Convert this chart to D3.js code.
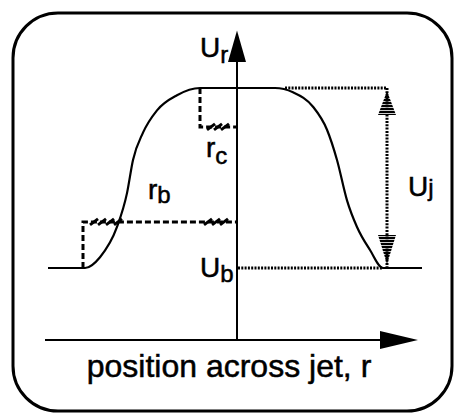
<!DOCTYPE html>
<html>
<head>
<meta charset="utf-8">
<script src="https://cdn.jsdelivr.net/npm/d3@7"></script>
<style>
  body { margin: 0; background: #fff; }
  text { font-family: "Liberation Sans", Arial, sans-serif; fill: #000; stroke: #000; stroke-width: 0.5px; }
</style>
</head>
<body>
<svg id="chart"></svg>
<script>
// jet velocity profile (r in arbitrary units, U in arbitrary units)
const profileR = [-9.45, -7.6, -6.85, -6.0, -5.5, -5.2, -4.7, -4.0, -3.0, -1.85,
                  1.9, 2.8, 3.8, 4.5, 5.0, 5.5, 6.0, 6.65, 7.3, 9.25];
const profileU = [1.0, 1.0, 1.15, 1.57, 2.04, 2.5, 2.88, 3.19, 3.4, 3.5,
                  3.5, 3.44, 3.24, 2.92, 2.5, 1.94, 1.57, 1.25, 1.0, 1.0];

const uBackground = 1.0;   // U_b
const uJet = 3.5;          // U_b + U_j
const rCore = -1.85;       // r_c edge
const uCoreMark = 2.96;
const rBeam = -7.7;        // r_b edge
const uBeamMark = 1.64;
const rSpan = 7.5;         // where U_j is measured

const axisLabel = 'position across jet, r';

const W = 455, H = 413;
const svg = d3.select('#chart').attr('width', W).attr('height', H);

const x = d3.scaleLinear().domain([-10, 10]).range([37, 437]);
const y = d3.scaleLinear().domain([0, 4]).range([340, 52]);

// frame
svg.append('rect')
    .attr('x', 13).attr('y', 13)
    .attr('width', 439).attr('height', 398)
    .attr('rx', 45).attr('ry', 45)
    .attr('fill', 'none').attr('stroke', '#000').attr('stroke-width', 3);

const defs = svg.append('defs');
const pat = defs.append('pattern')
    .attr('id', 'stripes')
    .attr('patternUnits', 'userSpaceOnUse')
    .attr('width', 20).attr('height', 3);
pat.append('rect').attr('width', 20).attr('height', 2.2).attr('fill', '#000');

// axes
const x0 = x(0), yBase = y(0);
svg.append('line')
    .attr('x1', x(-9.6)).attr('x2', x(7.2))
    .attr('y1', yBase).attr('y2', yBase)
    .attr('stroke', '#000').attr('stroke-width', 2);
svg.append('path')
    .attr('d', `M${x(9.05)},${yBase} L${x(7.15)},${yBase - 9} L${x(7.15)},${yBase + 9} Z`)
    .attr('fill', '#000');

svg.append('line')
    .attr('x1', x0).attr('x2', x0)
    .attr('y1', yBase).attr('y2', y(3.9))
    .attr('stroke', '#000').attr('stroke-width', 2);
svg.append('path')
    .attr('d', `M${x0},${y(4.3)} L${x0 - 9},${y(3.86)} L${x0 + 9},${y(3.86)} Z`)
    .attr('fill', '#000');

// profile curve
const line = d3.line()
    .x((d, i) => x(profileR[i]))
    .y(d => y(d))
    .curve(d3.curveMonotoneX);
svg.append('path')
    .attr('d', line(profileU))
    .attr('fill', 'none').attr('stroke', '#000').attr('stroke-width', 2.2);

// dashed construction lines
const dashed = (pts) => svg.append('path')
    .attr('d', d3.line()(pts))
    .attr('fill', 'none').attr('stroke', '#000')
    .attr('stroke-width', 3).attr('stroke-dasharray', '6,3');

dashed([[x(rCore), y(uJet)], [x(rCore), y(uCoreMark)], [x0, y(uCoreMark)]]);
dashed([[x(rBeam), y(uBackground)], [x(rBeam), y(uBeamMark)], [x0, y(uBeamMark)]]);

// hatch marks on the dashed lines
const hatch = (rs, u) => {
  rs.forEach(r => {
    svg.append('line')
        .attr('x1', x(r) - 4).attr('y1', y(u) + 3)
        .attr('x2', x(r) + 4).attr('y2', y(u) - 3)
        .attr('stroke', '#000').attr('stroke-width', 3);
  });
};
hatch([-1.3, -0.95, -0.6], uCoreMark);
hatch([-7.15, -6.75, -6.35, -5.95], uBeamMark);
hatch([-1.45, -1.05, -0.65], uBeamMark);

// dotted lines for U_j
const dotted = (pts) => svg.append('path')
    .attr('d', d3.line()(pts))
    .attr('fill', 'none').attr('stroke', '#000')
    .attr('stroke-width', 3).attr('stroke-dasharray', '2,1.3');

dotted([[x(2.4), y(uJet)], [x(rSpan), y(uJet)]]);
dotted([[x0 + 1, y(uBackground)], [x(7.3), y(uBackground)]]);
dotted([[x(rSpan), y(uJet)], [x(rSpan), y(uBackground)]]);

// striped arrowheads
const xs = x(rSpan);
svg.append('path')
    .attr('d', `M${xs},${y(uJet) + 3} L${xs - 9},${y(uJet) + 27} L${xs + 9},${y(uJet) + 27} Z`)
    .attr('fill', 'url(#stripes)');
svg.append('path')
    .attr('d', `M${xs},${y(uBackground) - 4} L${xs - 9},${y(uBackground) - 33} L${xs + 9},${y(uBackground) - 33} Z`)
    .attr('fill', 'url(#stripes)');

// labels
const sub = (sel, main, s, px, py, dy, fs = 28, sfs = 24) => {
  const t = sel.append('text').attr('x', px).attr('y', py).style('font-size', fs + 'px');
  t.append('tspan').text(main);
  t.append('tspan').attr('dy', dy).style('font-size', sfs + 'px').text(s);
};
sub(svg, 'U', 'r', 200, 57, 6);
sub(svg, 'U', 'b', 200, 277, 5);
sub(svg, 'r', 'c', 206, 157, 7);
sub(svg, 'r', 'b', 148, 199, 4);
sub(svg, 'U', 'j', 408, 196, 0);

svg.append('text')
    .attr('x', 229)
    .attr('y', 377)
    .attr('text-anchor', 'middle')
    .style('font-size', '32px')
    .text(axisLabel);
</script>
</body>
</html>
